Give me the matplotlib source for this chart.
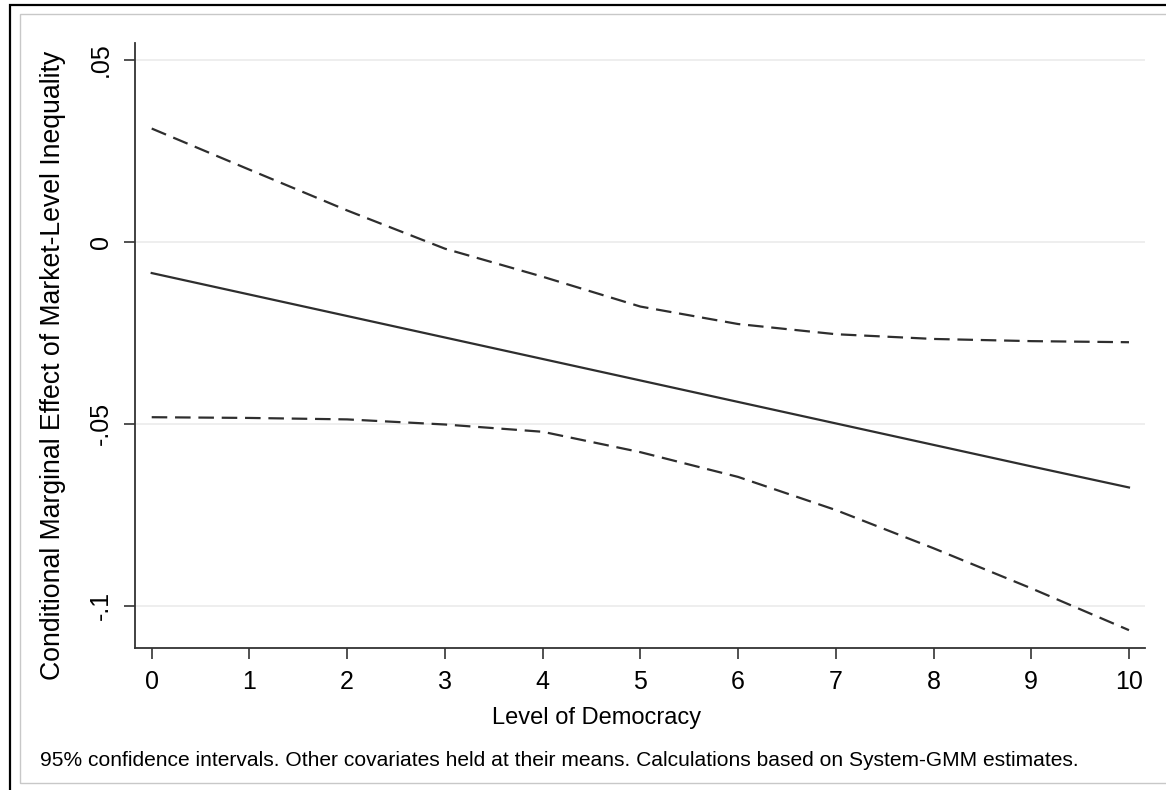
import matplotlib.pyplot as plt
from matplotlib.patches import Rectangle

plt.rcParams['font.family'] = ['Liberation Sans', 'DejaVu Sans']

# level of democracy
democracy = [0, 1, 2, 3, 4, 5, 6, 7, 8, 9, 10]
# conditional marginal effect and 95% bounds
effect = [-0.0086, -0.0145, -0.0204, -0.0263, -0.0322, -0.0381, -0.0440,
          -0.0499, -0.0558, -0.0617, -0.0675]
upper = [0.0311, 0.0198, 0.0086, -0.0019, -0.0096, -0.0178, -0.0226,
         -0.0254, -0.0267, -0.0273, -0.0276]
lower = [-0.0482, -0.0484, -0.0488, -0.0502, -0.0522, -0.0578, -0.0646,
         -0.0737, -0.0842, -0.0952, -0.1067]

yticks = [-0.1, -0.05, 0, 0.05]
ytick_labels = ['-.1', '-.05', '0', '.05']

W, H = 1166, 790
fig = plt.figure(figsize=(W / 100, H / 100), dpi=100)

# frames around the graph
fig.patches.append(Rectangle((10 / W, -0.1), 1.2, (H - 5) / H + 0.1, transform=fig.transFigure,
                             fill=False, edgecolor='black', linewidth=1.6))
fig.patches.append(Rectangle((20 / W, (H - 783) / H), 1.2, (783 - 14) / H, transform=fig.transFigure,
                             fill=False, edgecolor='#c8c8c8', linewidth=1.0))

ax = fig.add_axes([135 / W, (H - 648) / H, 1010 / W, 605 / H])

for t in yticks:
    ax.axhline(t, color='#ebebeb', linewidth=1.2, zorder=0)

ax.plot(democracy, effect, color='#2e2e2e', linewidth=1.6)
ax.plot(democracy, upper, color='#2e2e2e', linewidth=1.6, dashes=(7, 3.5))
ax.plot(democracy, lower, color='#2e2e2e', linewidth=1.6, dashes=(7, 3.5))

ax.set_xlim(-0.171, 10.164)
ax.set_ylim(-0.1116, 0.0546)

ax.set_xticks(democracy)
ax.set_xticklabels([str(d) for d in democracy], fontsize=18)
ax.set_yticks(yticks)
ax.set_yticklabels(ytick_labels, fontsize=18, rotation=90, va='center')

ax.tick_params(axis='both', length=8, width=1.2, color='#333333')
ax.tick_params(axis='x', pad=8)
ax.tick_params(axis='y', pad=8)

for s in ['top', 'right']:
    ax.spines[s].set_visible(False)
for s in ['left', 'bottom']:
    ax.spines[s].set_color('#333333')
    ax.spines[s].set_linewidth(1.3)

fig.text(53 / W, 1 - 365 / H, 'Conditional Marginal Effect of Market-Level Inequality',
         rotation=90, ha='center', va='center', fontsize=19.2)
fig.text(597 / W, 1 - 718 / H, 'Level of Democracy', ha='center', va='center', fontsize=17)
fig.text(40 / W, 1 - 761 / H,
         '95% confidence intervals. Other covariates held at their means. '
         'Calculations based on System-GMM estimates.',
         ha='left', va='center', fontsize=15.1)

fig.savefig('out.png', dpi=100, facecolor='white')
